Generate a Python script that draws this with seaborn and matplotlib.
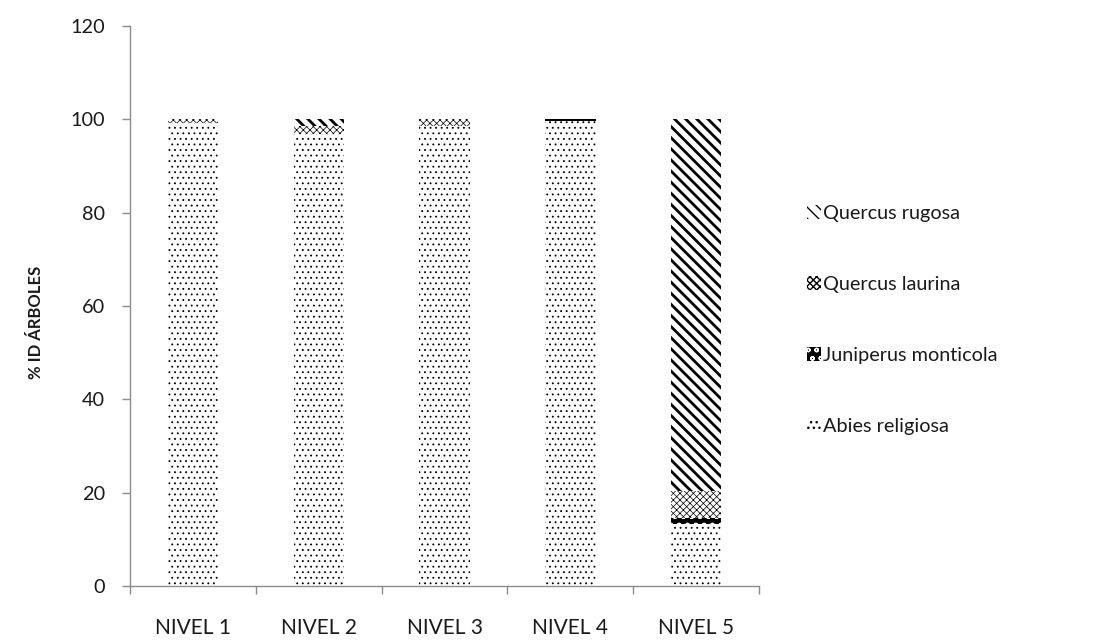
import matplotlib
matplotlib.use("Agg")
import matplotlib.pyplot as plt
import seaborn as sns
import numpy as np

# Share of identified trees (%) per altitudinal level, by species
niveles = ["NIVEL 1", "NIVEL 2", "NIVEL 3", "NIVEL 4", "NIVEL 5"]
abies_religiosa = [99.2, 96.8, 98.5, 99.6, 13.3]
juniperus_monticola = [0.0, 0.0, 0.0, 0.4, 1.3]
quercus_laurina = [0.8, 1.7, 1.5, 0.0, 5.7]
quercus_rugosa = [0.0, 1.5, 0.0, 0.0, 79.7]

especies = ["Abies religiosa", "Juniperus monticola", "Quercus laurina", "Quercus rugosa"]
series = [abies_religiosa, juniperus_monticola, quercus_laurina, quercus_rugosa]

sns.set_theme(style="white")
plt.rcParams["font.family"] = ["Lato", "DejaVu Sans"]

fig = plt.figure(figsize=(11.02, 6.42), dpi=100)
ax = fig.add_axes([0.118, 0.0872, 0.5708, 0.8723])

# fill, hatch colour, hatch pattern, hatch line width for each species
estilos = {
    "Abies religiosa": ("white", "black", "...", 0.6),
    "Juniperus monticola": ("black", "white", "oo", 0.9),
    "Quercus laurina": ("white", "black", "xxxxx", 0.5),
    "Quercus rugosa": ("white", "black", "\\\\\\", 2.0),
}

# stacked bars: draw cumulative totals from the top segment down
acumulado = np.cumsum(np.array(series), axis=0)
handles = {}
for nombre, alturas in reversed(list(zip(especies, acumulado))):
    cara, trama_color, trama, trama_lw = estilos[nombre]
    with plt.rc_context({"hatch.linewidth": trama_lw}):
        sns.barplot(x=niveles, y=alturas, color=cara, saturation=1, width=0.4,
                    edgecolor=trama_color, linewidth=0, hatch=trama, ax=ax)
    barras = ax.containers[-1]
    for p in barras:
        p.set_facecolor(cara)
        if hasattr(p, "set_hatch_linewidth"):
            p.set_hatch_linewidth(trama_lw)
    handles[nombre] = barras

ax.set_xlim(-0.5, 4.5)
ax.set_ylim(0, 120)
ax.set_yticks(np.arange(0, 121, 20))

for side in ["top", "right"]:
    ax.spines[side].set_visible(False)
for side in ["left", "bottom"]:
    ax.spines[side].set_color("#8c8c8c")
    ax.spines[side].set_linewidth(1.0)

ax.set_xticks(np.arange(-0.5, 5, 1), minor=True)
ax.tick_params(axis="x", which="minor", direction="out", length=6, width=1,
               color="#8c8c8c", bottom=True)
ax.tick_params(axis="x", which="major", length=0, pad=23, labelsize=15,
               labelcolor="#1a1a1a")
ax.tick_params(axis="y", which="major", direction="out", length=6, width=1,
               color="#8c8c8c", left=True, pad=12, labelsize=14.3, labelcolor="#1a1a1a")

ax.set_xlabel("")
ax.set_ylabel("% ID ÁRBOLES", fontsize=12, fontweight="bold", color="#1a1a1a")
ax.yaxis.set_label_coords(-0.136, 0.47)

orden = ["Quercus rugosa", "Quercus laurina", "Juniperus monticola", "Abies religiosa"]
leg = ax.legend([handles[n] for n in orden], orden, loc="center left",
                bbox_to_anchor=(0.725, 0.502), bbox_transform=fig.transFigure,
                frameon=False, fontsize=14.3, handlelength=0.7, handleheight=0.7,
                handletextpad=0.12, labelspacing=2.72, borderaxespad=0)
for t in leg.get_texts():
    t.set_color("#1a1a1a")

fig.savefig("out.png", dpi=100)
